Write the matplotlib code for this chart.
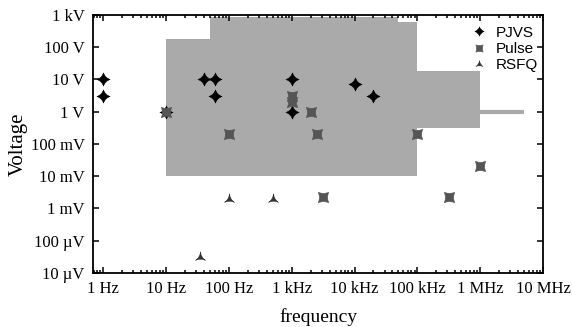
"""
Voltage vs frequency map: PJVS, pulse driven and RSFQ sources
"""
import numpy as np
import matplotlib
matplotlib.use("Agg")
import matplotlib.pyplot as plt
from matplotlib.path import Path
from matplotlib.ticker import FixedLocator, LogLocator, NullLocator

# data
pjvs_f = [1, 1, 10, 40, 60, 60, 1e3, 1e3, 1e4, 2e4]
pjvs_v = [10, 3, 1, 10, 10, 3, 10, 1, 7, 3]
pulse_f = [10, 100, 1e3, 1e3, 2e3, 2.5e3, 1e5, 3.2e3, 3.2e5, 1e6]
pulse_v = [1, 0.2, 3, 2, 1, 0.2, 0.2, 2.2e-3, 2.2e-3, 20e-3]
rsfq_f = [35, 100, 500]
rsfq_v = [30e-6, 2e-3, 2e-3]

# shaded region (outline) and the thin tail at 1 V
region_f = [10, 10, 50, 50, 5e4, 5e4, 1e5, 1e5, 1e6, 1e6, 1e5, 1e5]
region_v = [10e-3, 180, 180, 900, 900, 600, 600, 18, 18, 0.32, 0.32, 10e-3]
tail_f = [1e6, 5e6]
tail_v = [1, 1]

x_ticks = [1, 10, 100, 1e3, 1e4, 1e5, 1e6, 1e7]
x_labels = ["1 Hz", "10 Hz", "100 Hz", "1 kHz", "10 kHz", "100 kHz", "1 MHz", "10 MHz"]
y_ticks = [1e-5, 1e-4, 1e-3, 1e-2, 1e-1, 1, 10, 100, 1e3]
y_labels = ["10 \u00b5V", "100 \u00b5V", "1 mV", "10 mV", "100 mV", "1 V", "10 V", "100 V", "1 kV"]


def concave_path(n, ctrl, rot):
    # star-like marker with curved (concave) sides
    verts = []
    codes = []
    pts = []
    for i in range(n + 1):
        a = np.deg2rad(rot + 360.0 * i / n)
        pts.append((np.cos(a), np.sin(a)))
    verts.append(pts[0])
    codes.append(Path.MOVETO)
    for i in range(n):
        b = np.deg2rad(rot + 360.0 * (i + 0.5) / n)
        verts.append((ctrl * np.cos(b), ctrl * np.sin(b)))
        codes.append(Path.CURVE3)
        verts.append(pts[i + 1])
        codes.append(Path.CURVE3)
    verts.append(pts[0])
    codes.append(Path.CLOSEPOLY)
    return Path(verts, codes)


star4 = concave_path(4, 0.34, 90)
square4 = concave_path(4, 0.4, 45)
tri3 = concave_path(3, 0.1, 90)

serif = "Liberation Serif"
sans = "Liberation Sans"

fig = plt.figure(figsize=(5.72, 3.27), dpi=100)
ax = fig.add_axes([0.1626, 0.166, 0.7867, 0.788])

ax.fill(region_f, region_v, color="#aaaaaa", lw=0, zorder=1)
ax.plot(tail_f, tail_v, color="#aaaaaa", lw=3, solid_capstyle="butt", zorder=1)

ax.plot(pjvs_f, pjvs_v, ls="none", marker=star4, ms=9.5, color="black",
        mec="black", mew=0.4, label="PJVS", zorder=3)
ax.plot(pulse_f, pulse_v, ls="none", marker=square4, ms=7.5, color="#555555",
        mec="#555555", mew=0.4, label="Pulse", zorder=4)
ax.plot(rsfq_f, rsfq_v, ls="none", marker=tri3, ms=8, color="#333333",
        mec="#333333", mew=0.4, label="RSFQ", zorder=4)

ax.set_xscale("log")
ax.set_yscale("log")
ax.set_xlim(0.685, 1e7)
ax.set_ylim(1e-5, 1e3)

ax.xaxis.set_major_locator(FixedLocator(x_ticks))
ax.xaxis.set_minor_locator(LogLocator(base=10, subs=np.arange(2, 10), numticks=20))
ax.yaxis.set_major_locator(FixedLocator(y_ticks))
ax.yaxis.set_minor_locator(NullLocator())
ax.set_xticklabels(x_labels, fontfamily=serif, fontsize=12)
ax.set_yticklabels(y_labels, fontfamily=serif, fontsize=12)

ax.tick_params(which="both", direction="in", top=True, right=True, width=1.1)
ax.tick_params(which="major", length=4.5, pad=6)
ax.tick_params(which="minor", length=2.5)
for s in ax.spines.values():
    s.set_linewidth(1.3)

ax.set_xlabel("frequency", fontfamily=serif, fontsize=14, labelpad=8)
ax.set_ylabel("Voltage", fontfamily=serif, fontsize=15, labelpad=2)

leg = ax.legend(loc="upper right", bbox_to_anchor=(1.019, 1.012), frameon=False,
                prop={"family": sans, "size": 11}, markerscale=0.7,
                handlelength=1.0, handletextpad=0.6, labelspacing=0.15)

fig.savefig("out.png", dpi=100)
